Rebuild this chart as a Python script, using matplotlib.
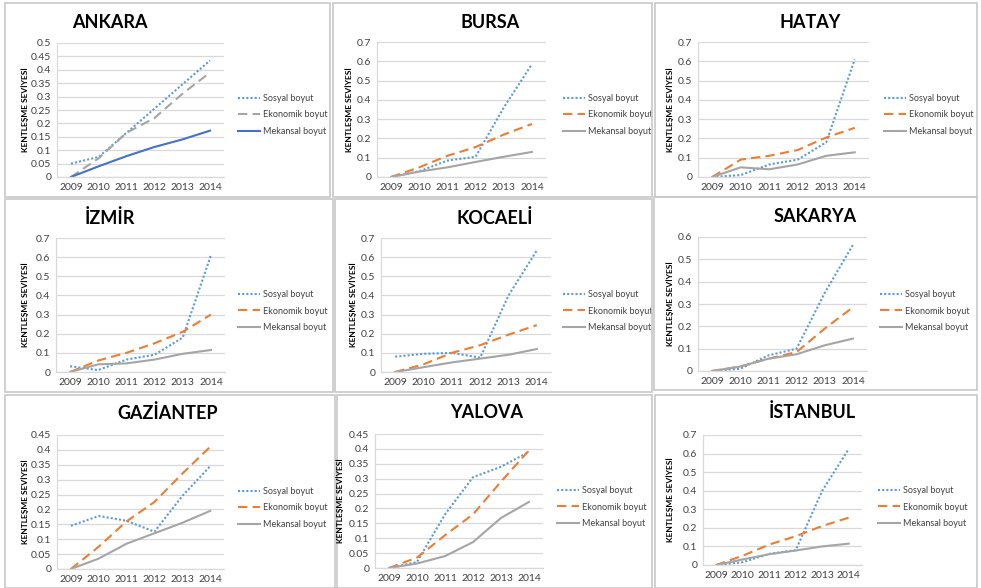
import numpy as np
import matplotlib
matplotlib.use("Agg")
import matplotlib.pyplot as plt
from matplotlib.patches import Rectangle
from matplotlib.ticker import FuncFormatter

plt.rcParams["font.family"] = ["Lato", "DejaVu Sans"]

# data
years = ["2009", "2010", "2011", "2012", "2013", "2014"]
series_names = ["Sosyal boyut", "Ekonomik boyut", "Mekansal boyut"]

ankara_sosyal = [0.05, 0.075, 0.165, 0.255, 0.345, 0.435]
ankara_ekonomik = [0.0, 0.07, 0.165, 0.22, 0.31, 0.39]
ankara_mekansal = [0.0, 0.04, 0.078, 0.112, 0.14, 0.173]

bursa_sosyal = [0.0, 0.03, 0.085, 0.105, 0.36, 0.585]
bursa_ekonomik = [0.0, 0.05, 0.11, 0.155, 0.22, 0.275]
bursa_mekansal = [0.0, 0.028, 0.05, 0.078, 0.105, 0.13]

hatay_sosyal = [0.0, 0.01, 0.065, 0.09, 0.18, 0.61]
hatay_ekonomik = [0.0, 0.09, 0.11, 0.14, 0.205, 0.255]
hatay_mekansal = [0.0, 0.05, 0.04, 0.065, 0.11, 0.128]

izmir_sosyal = [0.03, 0.01, 0.065, 0.09, 0.18, 0.61]
izmir_ekonomik = [0.0, 0.06, 0.1, 0.15, 0.21, 0.3]
izmir_mekansal = [0.0, 0.04, 0.045, 0.065, 0.095, 0.115]

kocaeli_sosyal = [0.08, 0.095, 0.1, 0.075, 0.4, 0.635]
kocaeli_ekonomik = [0.0, 0.04, 0.1, 0.14, 0.195, 0.245]
kocaeli_mekansal = [0.0, 0.025, 0.05, 0.07, 0.09, 0.12]

sakarya_sosyal = [0.0, 0.01, 0.07, 0.1, 0.35, 0.565]
sakarya_ekonomik = [0.0, 0.02, 0.055, 0.085, 0.19, 0.285]
sakarya_mekansal = [0.0, 0.02, 0.055, 0.075, 0.115, 0.145]

gaziantep_sosyal = [0.145, 0.178, 0.162, 0.125, 0.245, 0.345]
gaziantep_ekonomik = [0.0, 0.075, 0.16, 0.225, 0.32, 0.41]
gaziantep_mekansal = [0.0, 0.035, 0.085, 0.12, 0.155, 0.195]

yalova_sosyal = [0.0, 0.02, 0.18, 0.305, 0.34, 0.39]
yalova_ekonomik = [0.0, 0.035, 0.11, 0.18, 0.29, 0.395]
yalova_mekansal = [0.0, 0.015, 0.04, 0.087, 0.168, 0.222]

istanbul_sosyal = [0.0, 0.015, 0.06, 0.08, 0.4, 0.625]
istanbul_ekonomik = [0.0, 0.05, 0.11, 0.155, 0.21, 0.255]
istanbul_mekansal = [0.0, 0.03, 0.058, 0.078, 0.1, 0.115]

W, H = 981, 588
fig = plt.figure(figsize=(W / 100, H / 100), dpi=100)
fig.patch.set_facecolor("white")

BLUE_LIGHT = "#5B9BD5"
ORANGE = "#ED7D31"
GRAY = "#A5A5A5"
BLUE = "#4472C4"

# panel frames (x0, y0, x1, y1 in pixels)
frames = [
    (5, 3, 330, 197), (333, 3, 652, 197), (655, 3, 977, 197),
    (5, 199, 333, 392), (335, 199, 652, 392), (654, 197, 977, 390),
    (5, 395, 335, 588), (337, 395, 652, 588), (655, 395, 977, 588),
]
for x0, y0, x1, y1 in frames:
    fig.patches.append(Rectangle((x0 / W, 1 - y1 / H), (x1 - x0) / W, (y1 - y0) / H,
                                 transform=fig.transFigure, fill=False,
                                 edgecolor="#C8C8C8", linewidth=1.2))

# name, data, ymax, step, plot box (left, right, top, bottom), title pos, legend pos, colors, ylabel x
panels = [
    ("ANKARA", (ankara_sosyal, ankara_ekonomik, ankara_mekansal), 0.5, 0.05,
     (57, 224, 43, 177), (110, 22), (238, 115), (BLUE_LIGHT, GRAY, BLUE), 25),
    ("BURSA", (bursa_sosyal, bursa_ekonomik, bursa_mekansal), 0.7, 0.1,
     (377, 546, 42, 177), (490, 22), (563, 115), (BLUE_LIGHT, ORANGE, GRAY), 349),
    ("HATAY", (hatay_sosyal, hatay_ekonomik, hatay_mekansal), 0.7, 0.1,
     (698, 869, 42, 177), (810, 22), (884, 115), (BLUE_LIGHT, ORANGE, GRAY), 670),
    ("İZMİR", (izmir_sosyal, izmir_ekonomik, izmir_mekansal), 0.7, 0.1,
     (56, 225, 238, 372), (110, 218), (238, 311), (BLUE_LIGHT, ORANGE, GRAY), 25),
    ("KOCAELİ", (kocaeli_sosyal, kocaeli_ekonomik, kocaeli_mekansal), 0.7, 0.1,
     (381, 551, 238, 372), (495, 218), (563, 311), (BLUE_LIGHT, ORANGE, GRAY), 353),
    ("SAKARYA", (sakarya_sosyal, sakarya_ekonomik, sakarya_mekansal), 0.6, 0.1,
     (698, 867, 237, 371), (815, 216), (880, 311), (BLUE_LIGHT, ORANGE, GRAY), 670),
    ("GAZİANTEP", (gaziantep_sosyal, gaziantep_ekonomik, gaziantep_mekansal), 0.45, 0.05,
     (57, 224, 435, 569), (168, 413), (238, 508), (BLUE_LIGHT, ORANGE, GRAY), 25),
    ("YALOVA", (yalova_sosyal, yalova_ekonomik, yalova_mekansal), 0.45, 0.05,
     (375, 543, 434, 568), (487, 412), (557, 507), (BLUE_LIGHT, ORANGE, GRAY), 340),
    ("İSTANBUL", (istanbul_sosyal, istanbul_ekonomik, istanbul_mekansal), 0.7, 0.1,
     (703, 862, 435, 565), (812, 412), (878, 507), (BLUE_LIGHT, ORANGE, GRAY), 670),
]

styles = [(0, (1, 1)), (0, (4.5, 2.5)), "solid"]
x = np.arange(len(years))

for name, data, ymax, step, box, tpos, lpos, colors, ylx in panels:
    left, right, top, bottom = box
    ax = fig.add_axes([left / W, 1 - bottom / H, (right - left) / W, (bottom - top) / H])
    for vals, lbl, ls, c in zip(data, series_names, styles, colors):
        ax.plot(x, vals, linestyle=ls, color=c, linewidth=1.5, label=lbl)
    ax.set_xlim(-0.5, len(years) - 0.5)
    ax.set_ylim(0, ymax)
    ax.set_yticks(np.arange(0, ymax + step / 2, step))
    ax.yaxis.set_major_formatter(FuncFormatter(lambda v, p: f"{round(v, 3):g}"))
    ax.set_xticks(x)
    ax.set_xticklabels(years)
    ax.tick_params(length=0, labelsize=7.5, colors="#404040", pad=4)
    ax.grid(axis="y", color="#D9D9D9", linewidth=0.9)
    ax.set_axisbelow(True)
    for s in ["top", "right"]:
        ax.spines[s].set_visible(False)
    for s in ["left", "bottom"]:
        ax.spines[s].set_color("#D9D9D9")
        ax.spines[s].set_linewidth(0.9)

    fig.text(tpos[0] / W, 1 - tpos[1] / H, name, ha="center", va="center",
             fontsize=13, fontweight="bold", color="black")
    fig.text(ylx / W, 1 - (top + bottom) / 2 / H, "KENTLEŞME SEVİYESİ", rotation=90,
             ha="center", va="center", fontsize=6, fontweight="bold", color="black")
    ax.legend(loc="center left", bbox_to_anchor=(lpos[0] / W, 1 - lpos[1] / H),
              bbox_transform=fig.transFigure, frameon=False, fontsize=6.5,
              handlelength=2.4, handletextpad=0.35, labelspacing=0.8,
              labelcolor="#404040", borderpad=0, borderaxespad=0)

fig.savefig("out.png", dpi=100)
